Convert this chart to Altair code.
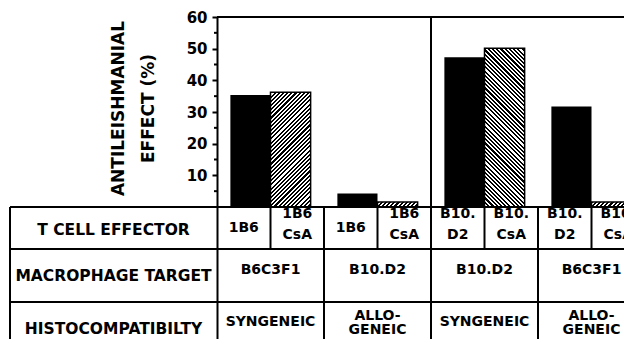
import altair as alt
import pandas as pd

# ---------------- data ----------------
effector_labels = ["1B6", "1B6\nCsA", "1B6", "1B6\nCsA",
                   "B10.\nD2", "B10.\nCsA", "B10.\nD2", "B10.\nCsA"]
macrophage_targets = ["B6C3F1", "B10.D2", "B10.D2", "B6C3F1"]
histocompatibility = ["SYNGENEIC", "ALLO-\nGENEIC", "SYNGENEIC", "ALLO-\nGENEIC"]
effect_plain = [35.4, 4.3, 47.3, 31.7]      # black bars
effect_csa = [36.2, 1.6, 50.1, 1.6]         # hatched bars (CsA treated)
hatch_direction = ["/", "/", "\\", "/"]
row_titles = ["T CELL EFFECTOR", "MACROPHAGE TARGET", "HISTOCOMPATIBILTY"]
y_tick_values = [10, 20, 30, 40, 50, 60]
y_minor_ticks = [5, 15, 25, 35, 45, 55]

# ---------------- layout ----------------
FONT = "DejaVu Sans"
PX_PER_UNIT = 190 / 60
SLOT_PX = 53.5
PLOT_W = 407
PLOT_H = 322
Y_MIN = 60 - PLOT_H / PX_PER_UNIT
X_MAX = PLOT_W / SLOT_PX
BAR_W = 0.75
ROW1_TOP, ROW2_TOP, ROW3_TOP = 190, 232, 285
LEFT_EDGE = -207

xscale = alt.Scale(domain=[0, X_MAX], nice=False, zero=False)
yscale = alt.Scale(domain=[Y_MIN, 60], nice=False, zero=False)

yaxis = alt.Axis(
    values=y_tick_values, title=["ANTILEISHMANIAL", "EFFECT (%)"],
    titleFont=FONT, titleFontWeight="bold", titleFontSize=17, titleColor="black",
    titleAngle=270, titleX=-99, titleY=91, titleAlign="center",
    titleBaseline="middle", titleLineHeight=30,
    labelFont=FONT, labelFontWeight="bold", labelFontSize=15, labelColor="black",
    labelPadding=5, labelFlush=False, tickColor="black", tickSize=5, tickWidth=2,
    domainColor="black", domainWidth=2, grid=False,
)

bars = pd.DataFrame({
    "x0": [2 * i + 1 - BAR_W for i in range(4)],
    "x1": [2 * i + 1 for i in range(4)],
    "v": effect_plain,
    "base": [0] * 4,
})

black_bars = alt.Chart(bars).mark_rect(color="black").encode(
    x=alt.X("x0:Q", scale=xscale, axis=None),
    x2="x1:Q",
    y=alt.Y("v:Q", scale=yscale, axis=yaxis),
    y2="base:Q",
)


def hatch_gradient(w, h, direction, period=4.2):
    a = (w + h) / (w * w + h * h)
    n = max(1, round((w + h) / period))
    stops = []
    for k in range(n):
        o0, o1, o2 = k / n, (k + 0.5) / n, (k + 1) / n
        stops += [alt.GradientStop(color="black", offset=o0),
                  alt.GradientStop(color="black", offset=o1),
                  alt.GradientStop(color="white", offset=o1),
                  alt.GradientStop(color="white", offset=o2)]
    if direction == "/":
        x1, y1, x2, y2 = 0, 0, a * w, a * h
    else:
        x1, y1, x2, y2 = 0, 1, a * w, 1 - a * h
    return alt.LinearGradient(gradient="linear", stops=stops,
                              x1=x1, y1=y1, x2=x2, y2=y2)


hatched_layers = []
for i, (val, d) in enumerate(zip(effect_csa, hatch_direction)):
    df = pd.DataFrame({"x0": [2 * i + 1], "x1": [2 * i + 1 + BAR_W],
                       "v": [val], "base": [0]})
    grad = hatch_gradient(BAR_W * SLOT_PX, val * PX_PER_UNIT, d)
    hatched_layers.append(
        alt.Chart(df).mark_rect(fill=grad, stroke="black", strokeWidth=1.5).encode(
            x=alt.X("x0:Q", scale=xscale, axis=None),
            x2="x1:Q",
            y=alt.Y("v:Q", scale=yscale, axis=yaxis),
            y2="base:Q",
        )
    )

minor = alt.Chart(pd.DataFrame({"m": y_minor_ticks})).mark_rule(
    color="black", strokeWidth=2).encode(
    y=alt.Y("m:Q", scale=yscale, axis=yaxis),
    x=alt.value(-3), x2=alt.value(0),
)

# table / frame lines
LW = 2
hlines = []
for ypx in [0, ROW1_TOP, ROW2_TOP, ROW3_TOP]:
    x_start = 0 if ypx == 0 else LEFT_EDGE
    hlines.append(
        alt.Chart(pd.DataFrame({"a": [0]})).mark_rule(color="black", strokeWidth=LW).encode(
            x=alt.value(x_start), x2=alt.value(PLOT_W), y=alt.value(ypx))
    )

left_border = alt.Chart(pd.DataFrame({"a": [0]})).mark_rule(color="black", strokeWidth=LW).encode(
    x=alt.value(LEFT_EDGE), y=alt.value(ROW1_TOP), y2=alt.value(PLOT_H))

row1_div = alt.Chart(pd.DataFrame({"s": [1, 2, 3, 5, 6, 7]})).mark_rule(
    color="black", strokeWidth=LW).encode(
    x=alt.X("s:Q", scale=xscale, axis=None),
    y=alt.value(ROW1_TOP), y2=alt.value(ROW2_TOP))

group_div = alt.Chart(pd.DataFrame({"s": [2, 6]})).mark_rule(
    color="black", strokeWidth=LW).encode(
    x=alt.X("s:Q", scale=xscale, axis=None),
    y=alt.value(ROW2_TOP), y2=alt.value(PLOT_H))

mid_div = alt.Chart(pd.DataFrame({"s": [4]})).mark_rule(
    color="black", strokeWidth=LW).encode(
    x=alt.X("s:Q", scale=xscale, axis=None),
    y=alt.value(0), y2=alt.value(PLOT_H))

# texts
row_text_layers = []
for label, ypx in zip(row_titles, [212.5, 259, 312]):
    row_text_layers.append(
        alt.Chart(pd.DataFrame({"t": [label]})).mark_text(
            font=FONT, fontWeight="bold", fontSize=15.5, color="black",
            align="center", baseline="middle").encode(
            x=alt.value(-103.5), y=alt.value(ypx), text="t:N")
    )

eff = pd.DataFrame({"s": [i + 0.5 for i in range(8)], "t": effector_labels})
eff["two"] = eff["t"].str.contains("\n")
eff_single = alt.Chart(eff[~eff["two"]]).mark_text(
    font=FONT, fontWeight="bold", fontSize=14, color="black",
    align="center", baseline="middle").encode(
    x=alt.X("s:Q", scale=xscale, axis=None), y=alt.value(211), text="t:N")
eff_double = alt.Chart(eff[eff["two"]]).mark_text(
    font=FONT, fontWeight="bold", fontSize=14, color="black",
    align="center", baseline="middle", lineBreak="\n", lineHeight=21).encode(
    x=alt.X("s:Q", scale=xscale, axis=None), y=alt.value(197), text="t:N")

mac = pd.DataFrame({"s": [2 * i + 1 for i in range(4)], "t": macrophage_targets})
mac_text = alt.Chart(mac).mark_text(
    font=FONT, fontWeight="bold", fontSize=14, color="black",
    align="center", baseline="middle").encode(
    x=alt.X("s:Q", scale=xscale, axis=None), y=alt.value(253), text="t:N")

his = pd.DataFrame({"s": [2 * i + 1 for i in range(4)], "t": histocompatibility})
his["two"] = his["t"].str.contains("\n")
his_single = alt.Chart(his[~his["two"]]).mark_text(
    font=FONT, fontWeight="bold", fontSize=14, color="black",
    align="center", baseline="middle").encode(
    x=alt.X("s:Q", scale=xscale, axis=None), y=alt.value(305), text="t:N")
his_double = alt.Chart(his[his["two"]]).mark_text(
    font=FONT, fontWeight="bold", fontSize=14, color="black",
    align="center", baseline="middle", lineBreak="\n", lineHeight=14).encode(
    x=alt.X("s:Q", scale=xscale, axis=None), y=alt.value(299), text="t:N")

chart = alt.layer(
    black_bars, *hatched_layers, minor, *hlines, left_border,
    row1_div, group_div, mid_div, *row_text_layers,
    eff_single, eff_double, mac_text, his_single, his_double,
).properties(
    width=PLOT_W, height=PLOT_H,
    autosize=alt.AutoSizeParams(type="none"),
    padding={"left": 209, "top": 9, "right": 0, "bottom": 0},
    background="white",
).configure_view(strokeWidth=0)

chart.save("out.html", embed_options={"renderer": "svg", "actions": False})
